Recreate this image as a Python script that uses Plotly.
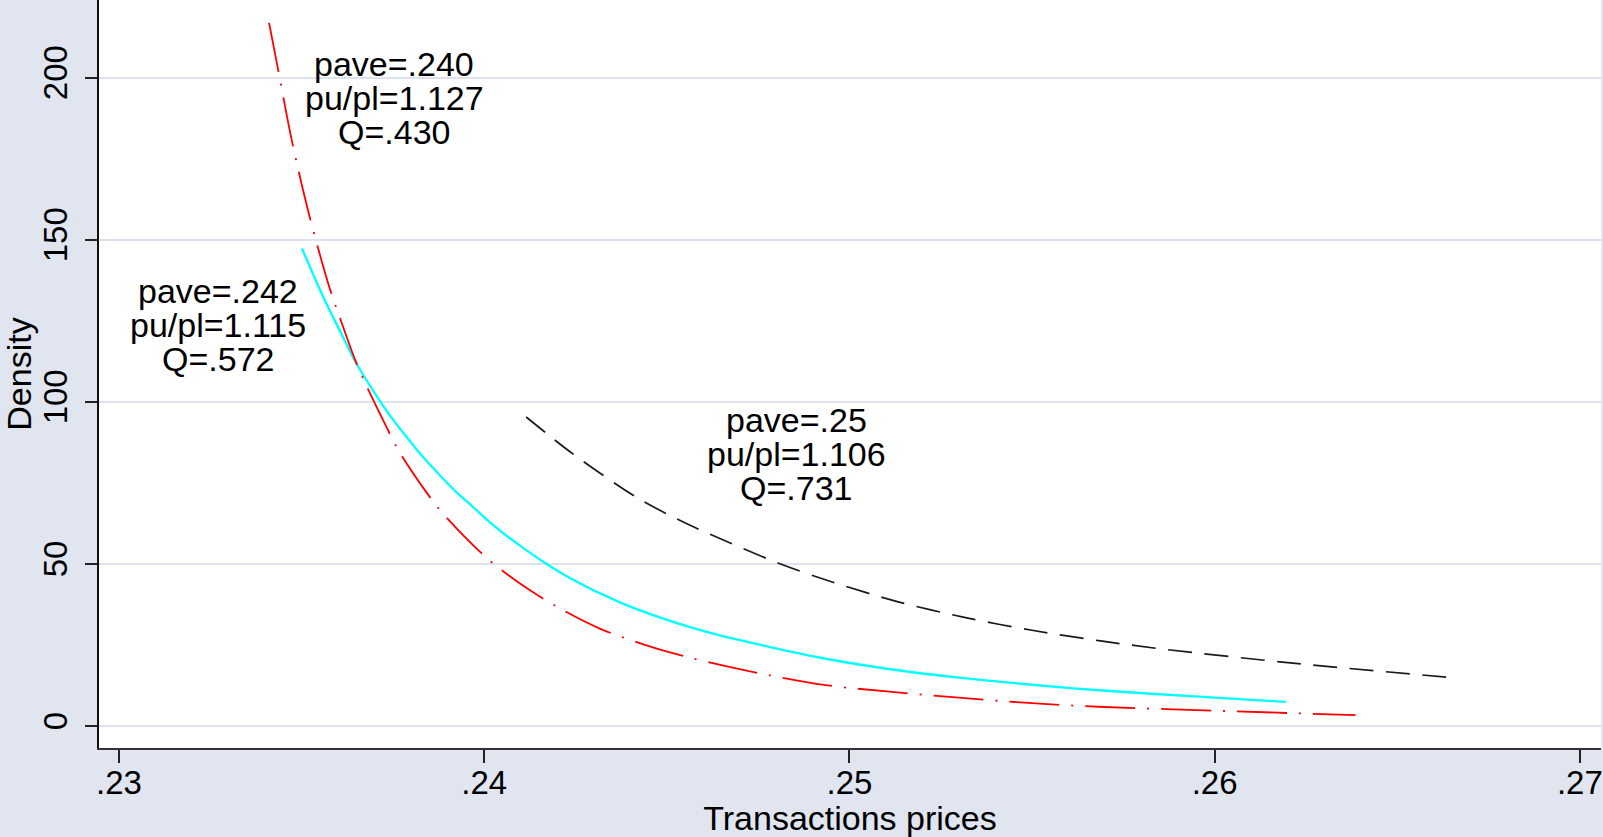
import plotly.graph_objects as go

# ---- data ----
x_red = [0.23411, 0.23436, 0.23475, 0.23522, 0.23577, 0.23604, 0.23645, 0.23677, 0.23732,
         0.23768, 0.23841, 0.23887, 0.24004, 0.24097, 0.24197, 0.24315, 0.24388, 0.24511,
         0.24712, 0.24935, 0.25117, 0.25300, 0.25500, 0.25683, 0.26000, 0.26386]
y_red = [216.9, 202.3, 179.7, 157.1, 135.0, 126.2, 113.4, 105.1, 92.3,
         84.5, 72.2, 65.5, 52.1, 44.0, 36.9, 30.1, 27.0, 22.6,
         17.2, 12.6, 10.5, 8.7, 7.0, 5.9, 4.7, 3.3]

x_cyan = [0.23501, 0.23559, 0.23604, 0.23650, 0.23695, 0.23741, 0.23787, 0.23832, 0.23878,
          0.23923, 0.23969, 0.24015, 0.24060, 0.24097, 0.24165, 0.24233, 0.24370, 0.24507,
          0.24643, 0.24780, 0.24917, 0.25117, 0.25300, 0.25500, 0.25683, 0.25956, 0.26195]
y_cyan = [147.3, 132.4, 122.1, 111.8, 103.6, 95.9, 89.2, 83.0, 77.4,
          72.2, 67.6, 62.9, 58.8, 55.7, 50.4, 45.7, 38.2, 32.5,
          28.0, 24.4, 21.1, 17.4, 14.9, 12.7, 11.0, 9.0, 7.4]

x_black = [0.24115, 0.24242, 0.24416, 0.24534, 0.24625, 0.24808, 0.24953, 0.25136, 0.25318,
           0.25500, 0.25683, 0.25865, 0.26229, 0.26660]
y_black = [95.3, 84.0, 70.6, 63.5, 58.8, 50.1, 44.4, 38.2, 33.4,
           29.5, 26.3, 23.6, 19.2, 14.8]

x_tickvals = [0.23, 0.24, 0.25, 0.26, 0.27]
x_ticktext = [".23", ".24", ".25", ".26", ".27"]
y_tickvals = [0, 50, 100, 150, 200]
y_ticktext = ["0", "50", "100", "150", "200"]

label_x = [0.23754, 0.23270, 0.24855]
label_y = [193.7, 123.6, 84.0]
label_lines = [["pave=.240", "pu/pl=1.127", "Q=.430"],
               ["pave=.242", "pu/pl=1.115", "Q=.572"],
               ["pave=.25", "pu/pl=1.106", "Q=.731"]]

FONT = "Liberation Sans, Arial, sans-serif"
BG = "#e0e5f0"
GRID = "#dde3ee"

fig = go.Figure()
fig.add_trace(go.Scatter(x=x_black, y=y_black, mode="lines",
                         line=dict(color="#1a1a1a", width=1.7, dash="24px,12.5px",
                                   shape="spline", smoothing=0.9),
                         showlegend=False))
fig.add_trace(go.Scatter(x=x_cyan, y=y_cyan, mode="lines",
                         line=dict(color="#00ffff", width=2.3, shape="spline", smoothing=0.9),
                         showlegend=False))
fig.add_trace(go.Scatter(x=x_red, y=y_red, mode="lines",
                         line=dict(color="#ff0000", width=1.8, dash="50px,12px,2px,12px",
                                   shape="spline", smoothing=0.9),
                         showlegend=False))

annotations = []
for lx, ly, lines in zip(label_x, label_y, label_lines):
    for i, t in enumerate(lines):
        annotations.append(dict(x=lx, y=ly, xref="x", yref="y", text=t, showarrow=False,
                                xanchor="center", yanchor="middle", yshift=(1 - i) * 34,
                                font=dict(family=FONT, size=34, color="black")))

fig.update_layout(
    width=1603, height=837,
    margin=dict(l=99, r=0, t=0, b=89),
    paper_bgcolor=BG, plot_bgcolor="white",
    font=dict(family=FONT, size=33, color="black"),
    annotations=annotations,
    xaxis=dict(range=[0.229453, 0.270580], tickvals=x_tickvals, ticktext=x_ticktext,
               ticks="outside", ticklen=13, tickwidth=1.5, tickcolor="#222",
               showline=True, linecolor="#333", linewidth=1.5, showgrid=False, zeroline=False,
               ticklabeloverflow="allow", ticklabelstandoff=-8,
               title=dict(text="Transactions prices", font=dict(size=34), standoff=0)),
    yaxis=dict(range=[-6.82, 223.95], tickvals=y_tickvals, ticktext=y_ticktext,
               tickangle=-90, ticks="outside", ticklen=12, tickwidth=1.5, tickcolor="#222",
               showline=True, linecolor="#111", linewidth=1.5, ticklabelstandoff=5,
               showgrid=True, gridcolor=GRID, gridwidth=1.5, zeroline=False,
               title=dict(text="Density", font=dict(size=34), standoff=1)),
)

fig.write_html("out.html", config={"displayModeBar": False},
               post_script="document.body.style.margin='0';document.body.style.overflow='hidden';")
